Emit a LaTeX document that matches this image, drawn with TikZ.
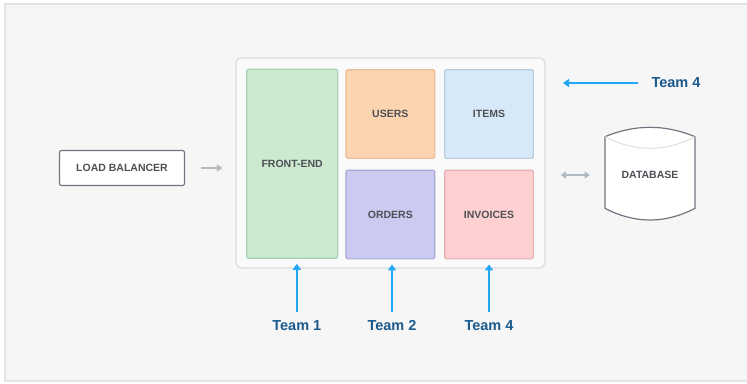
\documentclass[tikz,border=0pt]{standalone}
\usepackage{fontspec}
\setmainfont{Liberation Sans}
\usetikzlibrary{arrows.meta}

\definecolor{bgfill}{HTML}{F6F6F6}
\definecolor{bgline}{HTML}{E4E4E4}
\definecolor{appline}{HTML}{D9DCDF}
\definecolor{boxline}{HTML}{6E7780}
\definecolor{labeltext}{HTML}{4D5157}
\definecolor{teamblue}{HTML}{1C5A8E}
\definecolor{arrowblue}{HTML}{22A6F7}
\definecolor{arrowgray}{HTML}{B3BBC2}
\definecolor{frontfill}{HTML}{CBEAD0}
\definecolor{frontline}{HTML}{A9D3B2}
\definecolor{usersfill}{HTML}{FCD4B0}
\definecolor{usersline}{HTML}{EBBD98}
\definecolor{itemsfill}{HTML}{D7E9F8}
\definecolor{itemsline}{HTML}{B6CDE0}
\definecolor{ordersfill}{HTML}{CBCAF0}
\definecolor{ordersline}{HTML}{A9A8D6}
\definecolor{invfill}{HTML}{FFD0D1}
\definecolor{invline}{HTML}{E6B0B2}

\tikzset{
  boxlabel/.style={font=\bfseries\fontsize{10.5}{12}\selectfont, text=labeltext},
  service/.style={draw, line width=1.2pt, rounded corners=1.5pt, boxlabel},
  teamlabel/.style={font=\bfseries\fontsize{14.5}{17}\selectfont, text=teamblue, inner sep=0pt},
  teamarrow/.style={draw=arrowblue, line width=1.6pt, -{Triangle[length=6pt,width=8pt]}},
  grayarrow/.style={draw=arrowgray, line width=1.6pt, -{Triangle[length=5.5pt,width=7pt]}},
  graydouble/.style={draw=arrowgray, line width=1.6pt, {Triangle[length=5.5pt,width=7pt]}-{Triangle[length=5.5pt,width=7pt]}},
}

\begin{document}
\begin{tikzpicture}[x=1pt,y=-1pt]
\useasboundingbox (0,0) rectangle (747,383);
\fill[bgfill] (5,4) rectangle (747,381);
\draw[bgline, line width=1.2pt] (747,4) -- (5,4) -- (5,381) -- (747,381);

% load balancer
\node[draw=boxline, fill=white, line width=1.2pt, rounded corners=2pt,
      minimum width=125pt, minimum height=35pt, boxlabel] (lb) at (122,168) {LOAD BALANCER};

% the application
\node[draw=appline, fill=bgfill!60!white, line width=1.2pt, rounded corners=6pt,
      minimum width=309pt, minimum height=210pt] (app) at (390.5,163) {};

\node[service, draw=frontline, fill=frontfill, minimum width=91pt, minimum height=189pt] (frontend) at (292.2,163.7) {FRONT-END};
\node[service, draw=usersline, fill=usersfill, minimum width=88.7pt, minimum height=88.7pt] (users) at (390.3,114) {USERS};
\node[service, draw=itemsline, fill=itemsfill, minimum width=88.7pt, minimum height=88.7pt] (items) at (489,114) {ITEMS};
\node[service, draw=ordersline, fill=ordersfill, minimum width=88.7pt, minimum height=88.7pt] (orders) at (390.3,214.5) {ORDERS};
\node[service, draw=invline, fill=invfill, minimum width=88.7pt, minimum height=88.7pt] (invoices) at (489,214.5) {INVOICES};

% database
\filldraw[fill=white, draw=boxline, line width=1.2pt]
  (605,136.7) .. controls (635,124.2) and (665,124.2) .. (695,136.7)
  -- (695,208.3) .. controls (665,223.9) and (635,223.9) .. (605,208.3) -- cycle;
\draw[black!12, line width=1pt] (605,136.7) .. controls (635,152.2) and (665,152.2) .. (695,136.7);
\node[boxlabel] (db) at (650,175) {DATABASE};
\coordinate (dbleft) at (605,175);

% teams
\node[teamlabel] (team1) at (296.8,326) {Team 1};
\node[teamlabel] (team2) at (392,326) {Team 2};
\node[teamlabel] (team4) at (489,326) {Team 4};
\node[teamlabel] (team4b) at (676,83) {Team 4};
\coordinate (itemsend) at (563,83);

\draw[teamarrow] ([yshift=9pt]team1.north) -- ([yshift=-5pt]team1.north |- frontend.south);
\draw[teamarrow] ([yshift=9pt]team2.north) -- ([yshift=-5pt]team2.north |- orders.south);
\draw[teamarrow] ([yshift=9pt]team4.north) -- ([yshift=-5pt]team4.north |- invoices.south);
\draw[teamarrow] ([xshift=-13pt]team4b.west) -- (itemsend);

\draw[grayarrow] ([xshift=15.5pt]lb.east) -- ([xshift=-13pt]app.west |- lb.east);
\draw[graydouble] ([xshift=15pt]app.east |- dbleft) -- ([xshift=-15pt]dbleft);
\end{tikzpicture}
\end{document}
